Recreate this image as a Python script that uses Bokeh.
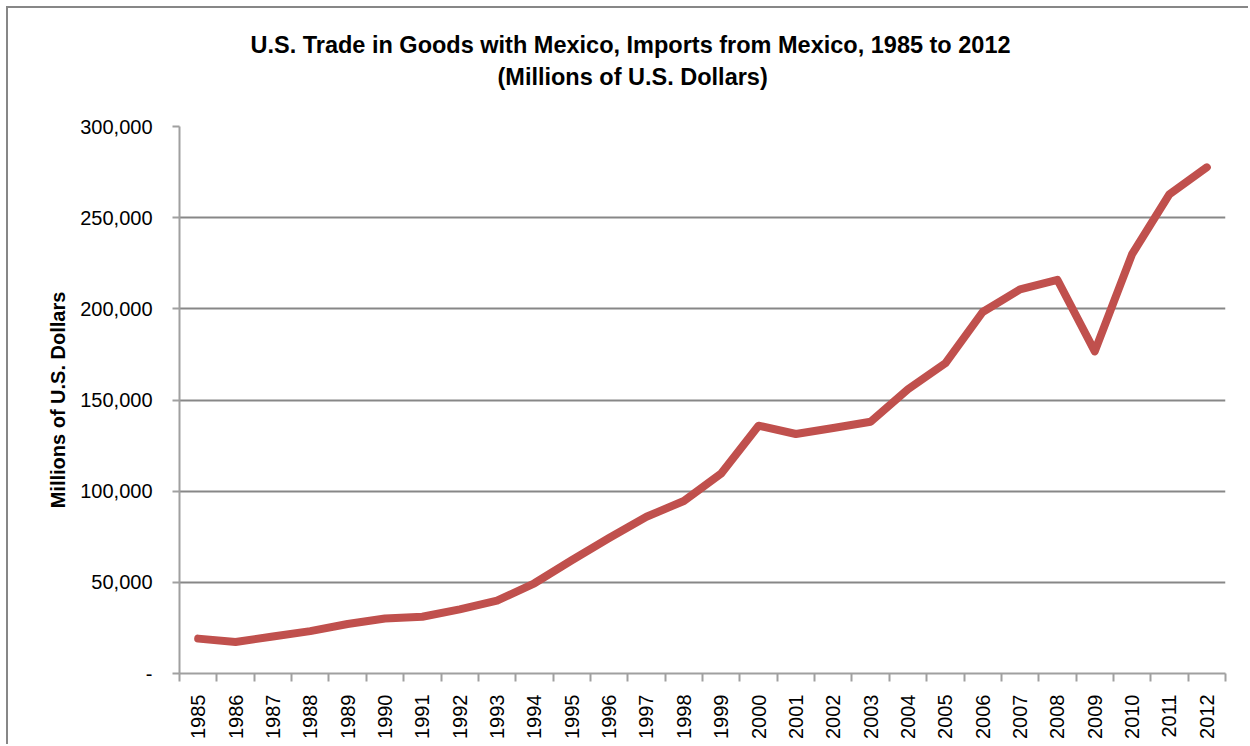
from bokeh.plotting import figure
from bokeh.models import FixedTicker, NumeralTickFormatter, Title, Range1d
from bokeh.embed import file_html
from bokeh.resources import INLINE
import math

years = [str(y) for y in range(1985, 2013)]
imports = [19132, 17302, 20271, 23260, 27162, 30157, 31130, 35211, 39917, 49494,
           62101, 74297, 85938, 94629, 109721, 135926, 131338, 134616, 138060, 155902,
           170109, 198253, 210714, 215942, 176654, 229986, 262874, 277594]
y_ticks = [0, 50000, 100000, 150000, 200000, 250000, 300000]

title_line1 = "U.S. Trade in Goods with Mexico, Imports from Mexico, 1985 to 2012"
title_line2 = "(Millions of U.S. Dollars)"
y_label = "Millions of U.S. Dollars"

FONT = "'Liberation Sans', Arial, sans-serif"
GRID = "#878787"

xs = [i + 0.5 for i in range(len(years))]

p = figure(width=1242, height=738, output_backend="svg", toolbar_location=None,
           x_range=Range1d(0, len(years)), y_range=Range1d(0, 300000),
           min_border_left=171, min_border_right=25, min_border_top=118, min_border_bottom=73)
p.margin = (6, 0, 0, 6)
p.styles = {"border-left": "2px solid #878787", "border-top": "2px solid #878787"}
p.outline_line_color = None
p.background_fill_color = "white"
p.border_fill_color = "white"

p.add_layout(Title(text=title_line2, align="left", text_font=FONT, text_font_size="23.5px",
                   text_font_style="bold", text_color="black", offset=318, standoff=74), "above")
p.add_layout(Title(text=title_line1, align="left", text_font=FONT, text_font_size="23.5px",
                   text_font_style="bold", text_color="black", offset=71, standoff=-66), "above")

p.line(xs, imports, line_color="#C0504D", line_width=8, line_cap="round", line_join="round")

# x axis
p.xaxis.ticker = FixedTicker(ticks=xs, minor_ticks=list(range(len(years) + 1)))
p.xaxis.major_label_overrides = {x: y for x, y in zip(xs, years)}
p.xaxis.major_label_orientation = math.pi / 2
p.xaxis.major_tick_out = 0
p.xaxis.major_tick_in = 0
p.xaxis.minor_tick_out = 8
p.xaxis.minor_tick_in = 0
p.xaxis.minor_tick_line_color = "#a0a0a0"
p.xaxis.minor_tick_line_width = 2
p.xaxis.axis_line_color = "#a0a0a0"
p.xaxis.axis_line_width = 2
p.xaxis.major_label_standoff = 13
p.xaxis.major_label_text_font = FONT
p.xaxis.major_label_text_font_size = "20px"
p.xaxis.major_label_text_color = "black"

# y axis
p.yaxis.ticker = FixedTicker(ticks=y_ticks, minor_ticks=[])
p.yaxis.formatter = NumeralTickFormatter(format="0,0")
p.yaxis.major_label_overrides = {0: "-"}
p.yaxis.major_tick_out = 7
p.yaxis.major_tick_in = 0
p.yaxis.major_tick_line_color = "#a0a0a0"
p.yaxis.major_tick_line_width = 2
p.yaxis.axis_line_color = "#a0a0a0"
p.yaxis.axis_line_width = 2
p.yaxis.major_label_standoff = 20
p.yaxis.major_label_text_font = FONT
p.yaxis.major_label_text_font_size = "20px"
p.yaxis.major_label_text_color = "black"
p.yaxis.axis_label = y_label
p.yaxis.axis_label_text_font = FONT
p.yaxis.axis_label_text_font_size = "20px"
p.yaxis.axis_label_text_font_style = "bold"
p.yaxis.axis_label_text_color = "black"
p.yaxis.axis_label_standoff = 8

p.xgrid.grid_line_color = None
p.ygrid.grid_line_color = GRID
p.ygrid.grid_line_width = 2

open("out.html", "w").write(file_html(p, INLINE))
